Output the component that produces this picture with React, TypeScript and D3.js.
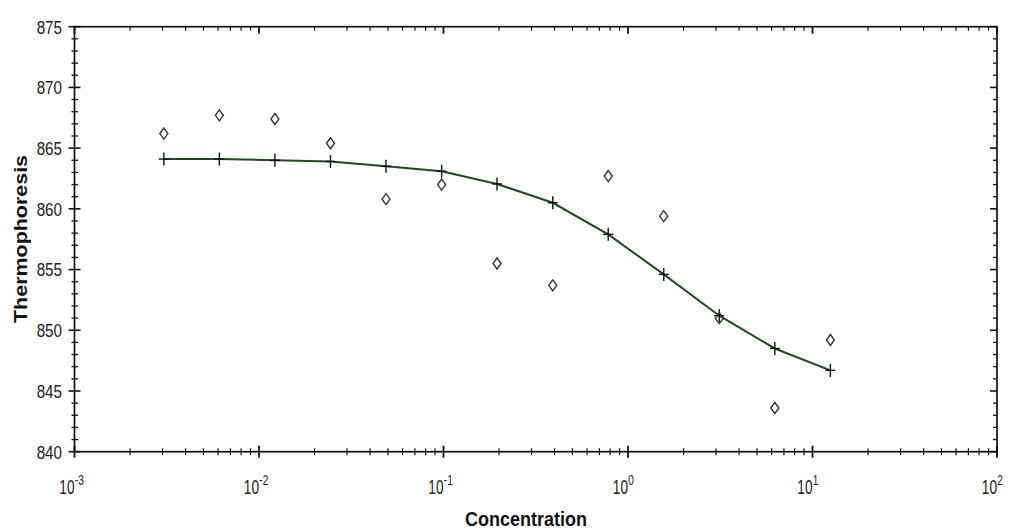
import React from "react";
import * as d3 from "d3";

const concentrations = [0.00305, 0.0061, 0.0122, 0.0244, 0.0488, 0.0977, 0.195, 0.391, 0.781, 1.5625, 3.125, 6.25, 12.5];
const measured = [866.2, 867.7, 867.4, 865.4, 860.8, 862.0, 855.5, 853.7, 862.7, 859.4, 851.0, 843.6, 849.2];
const fitted = [864.1, 864.1, 864.0, 863.9, 863.5, 863.1, 862.05, 860.5, 857.9, 854.6, 851.2, 848.5, 846.7];
const yTickValues = [840, 845, 850, 855, 860, 865, 870, 875];
const xDecadeExponents = [-3, -2, -1, 0, 1, 2];
const xLabel = "Concentration";
const yLabel = "Thermophoresis";

const W = 1010;
const H = 529;
const L = 74.5, R = 997, T = 26.7, B = 451.7;

export default function App() {
  const x = d3.scaleLog().domain([1e-3, 1e2]).range([L, R]);
  const y = d3.scaleLinear().domain([840, 875]).range([B, T]);

  const minorX: number[] = [];
  for (let e = -3; e < 2; e++) {
    for (let k = 2; k <= 9; k++) minorX.push(k * Math.pow(10, e));
  }
  const minorY = d3.range(840, 876, 1).filter((v) => v % 5 !== 0);

  const line = d3
    .line<number>()
    .x((_, i) => x(concentrations[i]))
    .y((d) => y(d));

  const font = "'Liberation Sans', Arial, sans-serif";

  return (
    <svg width={W} height={H} style={{ position: "absolute", left: 0, top: 0, background: "#fff" }}>
      <rect x={0} y={0} width={W} height={H} fill="#fff" />
      {/* frame */}
      <rect x={L} y={T} width={R - L} height={B - T} fill="none" stroke="#111" strokeWidth={1.7} />

      {/* bottom ticks (crossing) */}
      {minorX.map((v, i) => (
        <line key={"bx" + i} x1={x(v)} x2={x(v)} y1={B - 3.5} y2={B + 3.5} stroke="#111" strokeWidth={1.2} />
      ))}
      {xDecadeExponents.map((e) => (
        <line key={"bX" + e} x1={x(Math.pow(10, e))} x2={x(Math.pow(10, e))} y1={B - 6} y2={B + 6} stroke="#111" strokeWidth={1.8} />
      ))}
      {/* top ticks (inward) */}
      {minorX.map((v, i) => (
        <line key={"tx" + i} x1={x(v)} x2={x(v)} y1={T} y2={T + 4} stroke="#111" strokeWidth={1.2} />
      ))}
      {xDecadeExponents.map((e) => (
        <line key={"tX" + e} x1={x(Math.pow(10, e))} x2={x(Math.pow(10, e))} y1={T} y2={T + 7} stroke="#111" strokeWidth={1.8} />
      ))}
      {/* left ticks (crossing) */}
      {minorY.map((v) => (
        <line key={"ly" + v} x1={L - 3} x2={L + 3.5} y1={y(v)} y2={y(v)} stroke="#111" strokeWidth={1.3} />
      ))}
      {yTickValues.map((v) => (
        <line key={"lY" + v} x1={L - 6} x2={L + 6} y1={y(v)} y2={y(v)} stroke="#111" strokeWidth={1.6} />
      ))}
      {/* right ticks (inward) */}
      {minorY.map((v) => (
        <line key={"ry" + v} x1={R - 4} x2={R} y1={y(v)} y2={y(v)} stroke="#111" strokeWidth={1.3} />
      ))}
      {yTickValues.map((v) => (
        <line key={"rY" + v} x1={R - 7} x2={R} y1={y(v)} y2={y(v)} stroke="#111" strokeWidth={1.6} />
      ))}

      {/* y tick labels */}
      {yTickValues.map((v) => (
        <text
          key={"yl" + v}
          transform={`translate(${L - 12.5},${y(v) + 6.8}) scale(0.8,1)`}
          textAnchor="end"
          fontFamily={font}
          fontSize={19}
          fill="#222"
        >
          {v}
        </text>
      ))}

      {/* x tick labels */}
      {xDecadeExponents.map((e) => {
        const px = x(Math.pow(10, e));
        return (
          <g key={"xl" + e} transform={`translate(${px},${B + 42.5})`}>
            <text x={0} y={0} transform="scale(0.7,1)" textAnchor="end" fontFamily={font} fontSize={19.5} fill="#222">
              10
            </text>
            <text x={0.5} y={-9} transform="scale(0.72,1)" textAnchor="start" fontFamily={font} fontSize={14} fill="#222">
              {e < 0 ? "-" + Math.abs(e) : String(e)}
            </text>
          </g>
        );
      })}

      {/* axis titles */}
      <text
        transform={`translate(526,526) scale(1,1.15)`}
        textAnchor="middle"
        fontFamily={font}
        fontWeight="bold"
        fontSize={18}
        fill="#111"
      >
        {xLabel}
      </text>
      <text
        transform={`translate(27,${239}) rotate(-90)`}
        textAnchor="middle"
        fontFamily={font}
        fontWeight="bold"
        fontSize={18}
        textLength={168}
        lengthAdjust="spacingAndGlyphs"
        fill="#111"
      >
        {yLabel}
      </text>

      {/* fitted curve */}
      <path d={line(fitted) || ""} fill="none" stroke="#1e4a1e" strokeWidth={2} />
      {fitted.map((v, i) => {
        const cx = x(concentrations[i]);
        const cy = y(v);
        return (
          <g key={"p" + i}>
            <line x1={cx - 5} x2={cx + 5} y1={cy} y2={cy} stroke="#111" strokeWidth={1.4} />
            <line x1={cx} x2={cx} y1={cy - 6.5} y2={cy + 6.5} stroke="#111" strokeWidth={1.4} />
          </g>
        );
      })}

      {/* measured points (diamonds) */}
      {measured.map((v, i) => {
        const cx = x(concentrations[i]);
        const cy = y(v);
        return (
          <path
            key={"d" + i}
            d={`M${cx},${cy - 5.5}L${cx + 4},${cy}L${cx},${cy + 5.5}L${cx - 4},${cy}Z`}
            fill="none"
            stroke="#333"
            strokeWidth={1.4}
          />
        );
      })}
    </svg>
  );
}
